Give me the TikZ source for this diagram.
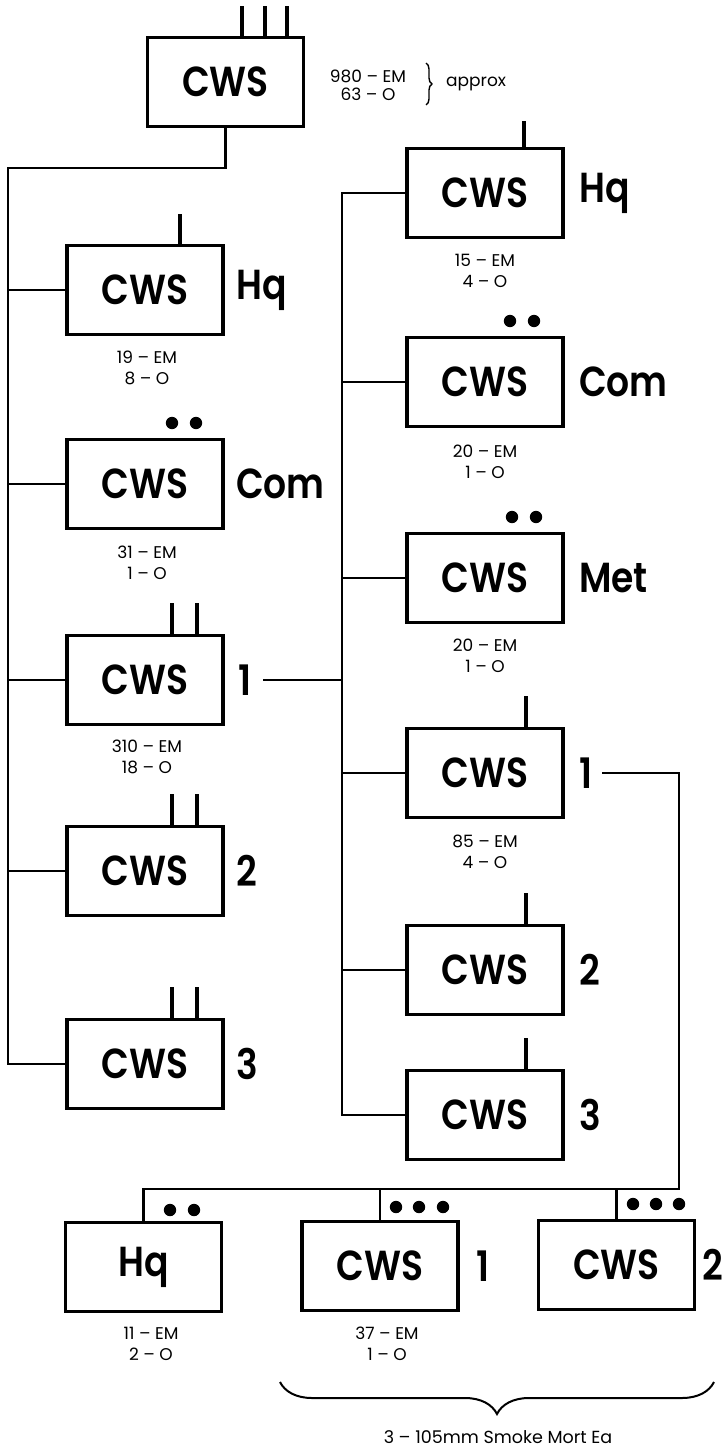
\documentclass[tikz,border=0pt]{standalone}
\usepackage{fontspec}
\setmainfont{Poppins}
\IfFontExistsTF{Poppins SemiBold}
  {\newfontfamily\bigfont{Poppins SemiBold}[FakeStretch=0.86]\newcommand\bigface{\bigfont}}
  {\newfontfamily\bigfont{Poppins}[FakeStretch=0.86]\newcommand\bigface{\bigfont\bfseries}}
\usetikzlibrary{positioning,decorations.pathreplacing,calc}
\begin{document}
\begin{tikzpicture}[x=1pt,y=-1pt,
  box/.style={draw, line width=3.8pt, minimum width=156pt, minimum height=89pt, inner sep=0pt, font=\fontsize{42}{42}\selectfont\bigface},
  lab/.style={anchor=west, inner sep=0pt, font=\fontsize{42}{42}\selectfont\bigface},
  cnt/.style={align=center, inner sep=0pt, font=\fontsize{17}{21}\selectfont},
  conn/.style={line width=2.2pt},
  tickmark/.style={line width=4pt},
  dotmark/.style={fill=black}]
\useasboundingbox (0,0) rectangle (726,1447);

% boxes
\node[box] (top) at (225.5,82) {CWS};
\node[box] (lHq) at (145,290) {CWS};
\node[box] (lCom) at (145,484) {CWS};
\node[box] (l1) at (145,680) {CWS};
\node[box] (l2) at (145,871) {CWS};
\node[box] (l3) at (145,1064) {CWS};
\node[box] (rHq) at (485,193) {CWS};
\node[box] (rCom) at (485,382) {CWS};
\node[box] (rMet) at (485,578) {CWS};
\node[box] (r1) at (485,773) {CWS};
\node[box] (r2) at (485,970) {CWS};
\node[box] (r3) at (485,1115) {CWS};
\node[box] (bHq) at (143.5,1267) {Hq};
\node[box] (b1) at (380,1266) {CWS};
\node[box] (b2) at (616.5,1265) {CWS};

% side labels
\node[lab, right=11pt of lHq] (lHqL) {Hq};
\node[lab, right=11pt of lCom] (lComL) {Com};
\node[lab, right=13pt of l1] (l1L) {1};
\node[lab, right=11pt of l2] (l2L) {2};
\node[lab, right=11pt of l3] (l3L) {3};
\node[lab, right=14pt of rHq] (rHqL) {Hq};
\node[lab, right=14pt of rCom] (rComL) {Com};
\node[lab, right=14pt of rMet] (rMetL) {Met};
\node[lab, right=14pt of r1] (r1L) {1};
\node[lab, right=14pt of r2] (r2L) {2};
\node[lab, right=14pt of r3] (r3L) {3};
\node[lab, right=16pt of b1] (b1L) {1};
\node[lab, right=6pt of b2] (b2L) {2};

% counts
\node[cnt] (topC) at (368,85) {980 – EM\\[-3pt]63 – O};
\node[cnt] (lHqC) at (147,368) {19 – EM\\8 – O};
\node[cnt] (lComC) at (147,563) {31 – EM\\1 – O};
\node[cnt] (l1C) at (147,757) {310 – EM\\18 – O};
\node[cnt] (rHqC) at (485,271) {15 – EM\\4 – O};
\node[cnt] (rComC) at (485,462) {20 – EM\\1 – O};
\node[cnt] (rMetC) at (485,656) {20 – EM\\1 – O};
\node[cnt] (r1C) at (485,852) {85 – EM\\4 – O};
\node[cnt] (bHqC) at (151,1344) {11 – EM\\2 – O};
\node[cnt] (b1C) at (387,1344) {37 – EM\\1 – O};

\node[anchor=west, inner sep=0pt, font=\fontsize{17}{17}\selectfont] (apx) at (446,84) {approx};
\draw[decorate, decoration={brace, amplitude=6pt}, line width=1.4pt] (426,63) -- (426,105);

\draw[decorate, decoration={brace, amplitude=32pt}, line width=2pt] (714,1382) -- (280,1382);
\node[inner sep=0pt, font=\fontsize{17.5}{17.5}\selectfont] (mort) at (498,1437) {3 – 105mm Smoke Mort Ea};

% connectors
\coordinate (L) at (8,168);
\draw[conn] (top.south) |- (L) -- (L |- l3.west) -- (l3.west);
\foreach \n in {lHq,lCom,l1,l2} \draw[conn] (L |- \n.west) -- (\n.west);

\coordinate (R) at (342,193);
\draw[conn] (rHq.west) -- (R |- rHq.west) -- (R |- r3.west) -- (r3.west);
\foreach \n in {rCom,rMet,r1,r2} \draw[conn] (R |- \n.west) -- (\n.west);
\draw[conn] ([xshift=12pt]l1L.east) -- (R |- l1L.east);

\coordinate (B) at (679,1189);
\draw[conn] ([xshift=10pt]r1L.east) -| (B) -- (bHq.north |- B) -- (bHq.north);
\draw[conn] (b1.north |- B) -- (b1.north);
\draw[conn] (b2.north |- B) -- (b2.north);

% ticks
\foreach \dx in {16.5,39.5,61.5} \draw[tickmark] ([xshift=\dx pt]top.north) -- ++(0,-30);
\draw[tickmark] ([xshift=35pt]lHq.north) -- ++(0,-30);
\foreach \n in {l1,l2,l3} {
  \draw[tickmark] ([xshift=27pt]\n.north) -- ++(0,-31);
  \draw[tickmark] ([xshift=52pt]\n.north) -- ++(0,-31);
}
\draw[tickmark] ([xshift=39pt]rHq.north) -- ++(0,-26);
\foreach \n in {r1,r2,r3} \draw[tickmark] ([xshift=41pt]\n.north) -- ++(0,-31);

% dots
\foreach \p in {(172,423),(196,423),(510,321),(534,321),(512,517),(536,517),
  (170,1210),(194,1210),(396,1207),(419,1207),(443,1207),(633,1204),(656,1204),(679,1204)}
  \fill[dotmark] \p circle[radius=6.2pt];
\end{tikzpicture}
\end{document}
